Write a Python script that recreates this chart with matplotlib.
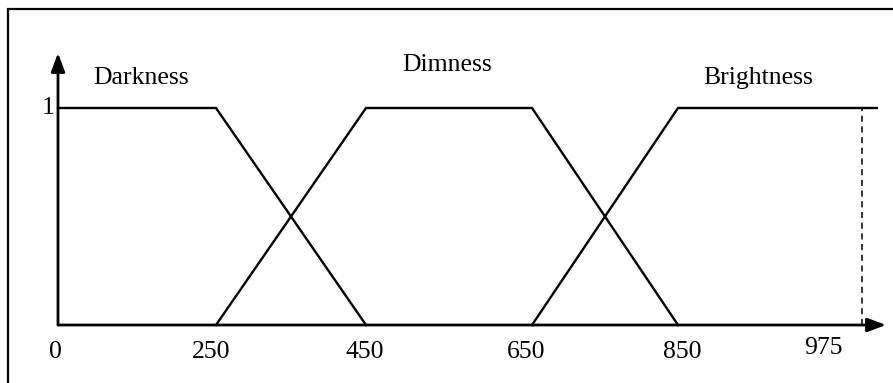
import numpy as np
import matplotlib.pyplot as plt
from matplotlib.patches import Rectangle

plt.rcParams["font.family"] = ["Liberation Serif", "DejaVu Serif"]

# membership functions (x = intensity, y = membership degree)
DARK_X = [0, 250, 450]
DARK_Y = [1, 1, 0]
DIM_X = [250, 450, 650, 850]
DIM_Y = [0, 1, 1, 0]
BRIGHT_X = [650, 850, 985]
BRIGHT_Y = [0, 1, 1]
MAX_X = 975

XTICKS = [0, 250, 450, 650, 850, 975]
XTICK_LABELS = ["0", "250", "450", "650", "850", "975"]
SET_NAMES = ["Darkness", "Dimness", "Brightness"]

# the sketch is not drawn to scale: piecewise-linear x scale
BREAK_V = [0, 250, 450, 650, 850, 975]
BREAK_P = [58, 216, 366, 532, 678, 862]
S_LO = (BREAK_P[1] - BREAK_P[0]) / (BREAK_V[1] - BREAK_V[0])
S_HI = (BREAK_P[-1] - BREAK_P[-2]) / (BREAK_V[-1] - BREAK_V[-2])
V_EXT = [-5000] + BREAK_V + [5000]
P_EXT = ([BREAK_P[0] - 5000 * S_LO] + BREAK_P
         + [BREAK_P[-1] + (5000 - BREAK_V[-1]) * S_HI])


def fwd(v):
    return np.interp(v, V_EXT, P_EXT)


def inv(p):
    return np.interp(p, P_EXT, V_EXT)


W, H = 893, 383
fig = plt.figure(figsize=(W / 100, H / 100), dpi=100)
ax = fig.add_axes([0, 0, 1, 1])
ax.set_xscale("function", functions=(fwd, inv))
ax.set_xlim(inv(0), inv(W))
ax.set_ylim(-58 / 217, (H - 58) / 217)
ax.axis("off")

lw = 1.7
ax.plot(DARK_X, DARK_Y, color="black", lw=lw, solid_joinstyle="miter")
ax.plot(DIM_X, DIM_Y, color="black", lw=lw, solid_joinstyle="miter")
ax.plot(BRIGHT_X, BRIGHT_Y, color="black", lw=lw, solid_joinstyle="miter")
ax.plot([MAX_X, MAX_X], [0, 1], color="black", lw=1.1, ls=(0, (4, 3)))

# axes with arrow heads
arrow = dict(arrowstyle="-|>,head_length=0.8,head_width=0.3", lw=2.0,
             color="black", shrinkA=0, shrinkB=0, mutation_scale=14)
ax.annotate("", xy=(inv(886), 0), xytext=(0, 0), arrowprops=arrow)
ax.annotate("", xy=(0, (325 - 53) / 217), xytext=(0, 0), arrowprops=arrow)

fs = 18.5
label_dx = [-3, -5, -1, -6, 4, -39]
label_dy = [-27, -27, -27, -27, -27, -23]
for v, lab, dx, dy in zip(XTICKS, XTICK_LABELS, label_dx, label_dy):
    ax.annotate(lab, xy=(v, 0), xytext=(dx, dy), textcoords="offset pixels",
                ha="center", va="center", fontsize=fs)
ax.annotate("1", xy=(0, 1), xytext=(-3, 0), textcoords="offset pixels",
            ha="right", va="center", fontsize=fs)

name_pos = [(inv(141), (325 - 78) / 217),
            (inv(447), (325 - 65) / 217),
            (inv(758), (325 - 78) / 217)]
for name, (x, y) in zip(SET_NAMES, name_pos):
    ax.text(x, y, name, ha="center", va="center", fontsize=fs)

# frame (only left and top edges fall inside the image)
fig.patches.append(Rectangle((8 / W, -0.1), 1.2, (H - 9) / H + 0.1,
                             transform=fig.transFigure, fill=False,
                             lw=1.6, edgecolor="black"))

fig.savefig("out.png", dpi=100)
